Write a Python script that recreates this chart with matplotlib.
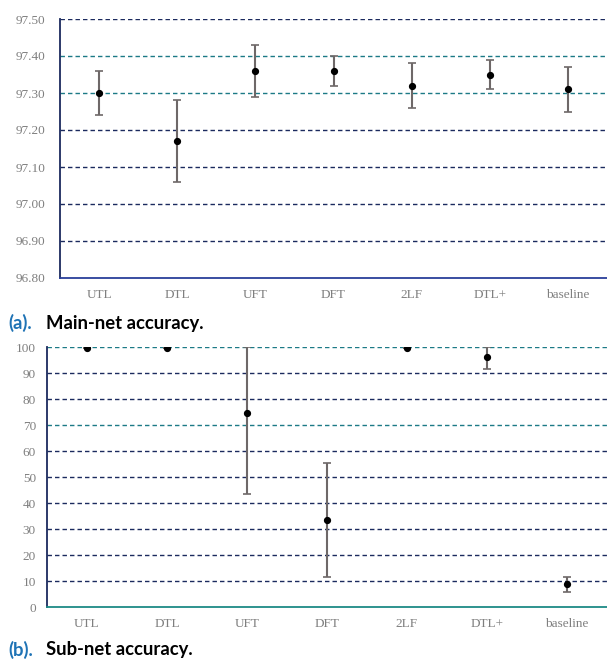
import matplotlib.pyplot as plt
import numpy as np

# categories shared by both panels
methods = ["UTL", "DTL", "UFT", "DFT", "2LF", "DTL+", "baseline"]

# (a) main-net accuracy: mean, lower end, upper end of error bar
main_mean = [97.30, 97.17, 97.36, 97.36, 97.32, 97.35, 97.31]
main_low = [97.24, 97.06, 97.29, 97.32, 97.26, 97.31, 97.25]
main_high = [97.36, 97.28, 97.43, 97.40, 97.38, 97.39, 97.37]
main_ticks = [96.80, 96.90, 97.00, 97.10, 97.20, 97.30, 97.40, 97.50]

# (b) sub-net accuracy
sub_mean = [99.5, 99.5, 74.7, 33.5, 99.5, 96.3, 8.7]
sub_low = [99.5, 99.5, 43.6, 11.7, 99.5, 91.5, 5.8]
sub_high = [99.5, 99.5, 100.0, 55.2, 99.5, 100.0, 11.7]
sub_ticks = [0, 10, 20, 30, 40, 50, 60, 70, 80, 90, 100]

navy = "#1b2a5e"
teal = "#1c7a86"
tick_grey = "#7f7f7f"


def draw_panel(ax, mean, low, high, ticks, fmt, teal_lines, bottom_col, ypad):
    x = np.arange(len(methods))
    mean = np.array(mean)
    err = [mean - np.array(low), np.array(high) - mean]
    for t in ticks[1:]:
        col = teal if t in teal_lines else navy
        ax.axhline(t, color=col, lw=1.0, dashes=(3.2, 2.2), zorder=1)
    ax.errorbar(x, mean, yerr=err, fmt="o", color="black", ms=4.2,
                ecolor="#6e6868", elinewidth=1.5, capsize=3, capthick=1.2, zorder=3)
    ax.set_xlim(-0.5, len(methods) - 0.5)
    ax.set_ylim(ticks[0], ticks[-1])
    ax.set_yticks(ticks)
    ax.set_yticklabels([fmt.format(t) for t in ticks])
    ax.set_xticks(x)
    ax.set_xticklabels(methods)
    for s in ["top", "right"]:
        ax.spines[s].set_visible(False)
    ax.spines["left"].set_color(navy)
    ax.spines["left"].set_linewidth(1.3)
    ax.spines["bottom"].set_color(bottom_col)
    ax.spines["bottom"].set_linewidth(1.3)
    ax.tick_params(length=0, colors=tick_grey, labelsize=9.5)
    ax.tick_params(axis="x", pad=8)
    ax.tick_params(axis="y", pad=ypad)
    for lab in ax.get_xticklabels() + ax.get_yticklabels():
        lab.set_family("Liberation Serif")


fig = plt.figure(figsize=(6.07, 6.61), dpi=100)

ax1 = fig.add_axes([60 / 607, 1 - 278 / 661, 1 - 60 / 607, 259 / 661])
draw_panel(ax1, main_mean, main_low, main_high, main_ticks, "{:.2f}",
           [97.30, 97.40], "#2a3f9a", 10.5)

ax2 = fig.add_axes([47 / 607, 1 - 607 / 661, 1 - 47 / 607, 260 / 661])
draw_panel(ax2, sub_mean, sub_low, sub_high, sub_ticks, "{:d}",
           [100, 70], "#1c8a86", 8)

# captions
for ypix, tag, txt in [(323, "(a).", "Main-net accuracy."),
                       (650, "(b).", "Sub-net accuracy.")]:
    fig.text(8 / 607, 1 - ypix / 661, tag, color="#1f73b5", fontsize=13.3,
             fontweight="bold", family="Lato", va="center")
    fig.text(46 / 607, 1 - ypix / 661, txt, color="black", fontsize=13.3,
             fontweight="bold", family="Lato", va="center")

fig.savefig("out.png", dpi=100)
